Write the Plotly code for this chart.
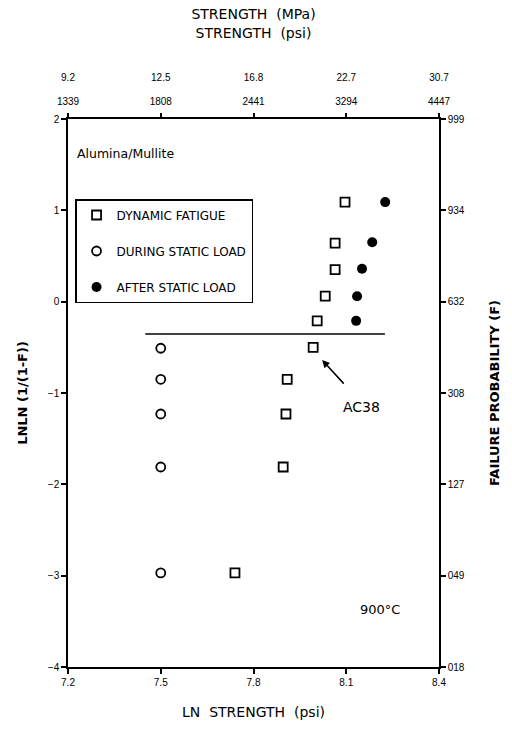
import plotly.graph_objects as go

# ---- data ----
ln_psi_ticks = [7.2, 7.5, 7.8, 8.1, 8.4]
ln_psi_labels = ["7.2", "7.5", "7.8", "8.1", "8.4"]
psi_labels = ["1339", "1808", "2441", "3294", "4447"]
mpa_labels = ["9.2", "12.5", "16.8", "22.7", "30.7"]
lnln_ticks = [-4, -3, -2, -1, 0, 1, 2]
f_labels = ["018", "049", "127", "308", "632", "934", "999"]

dyn_x = [8.096, 8.064, 8.064, 8.032, 8.006, 7.993, 7.909, 7.905, 7.896, 7.740]
dyn_y = [1.09, 0.64, 0.35, 0.06, -0.21, -0.50, -0.85, -1.23, -1.81, -2.97]
during_x = [7.5, 7.5, 7.5, 7.5, 7.5]
during_y = [-0.51, -0.85, -1.23, -1.81, -2.97]
after_x = [8.226, 8.184, 8.151, 8.135, 8.132]
after_y = [1.09, 0.65, 0.36, 0.06, -0.21]
threshold_x = [7.45, 8.225]
threshold_y = [-0.355, -0.355]

TICKFONT = dict(family="Liberation Sans", size=10, color="black")
TITLEFONT = dict(family="DejaVu Sans", size=13, color="black")

fig = go.Figure()
fig.add_trace(go.Scatter(x=threshold_x, y=threshold_y, mode="lines",
                         line=dict(color="black", width=1.5), showlegend=False, hoverinfo="skip"))
fig.add_trace(go.Scatter(x=dyn_x, y=dyn_y, mode="markers", name="DYNAMIC FATIGUE", legendgroup="a",
                         marker=dict(symbol="square-open", size=9, color="black", line=dict(width=1.8))))
fig.add_trace(go.Scatter(x=during_x, y=during_y, mode="markers", name="DURING STATIC LOAD", legendgroup="b",
                         marker=dict(symbol="circle-open", size=9, color="black", line=dict(width=1.8))))
fig.add_trace(go.Scatter(x=after_x, y=after_y, mode="markers", name="AFTER STATIC LOAD", legendgroup="c",
                         marker=dict(symbol="circle", size=10, color="black")))
# helper traces so that secondary axes are drawn
fig.add_trace(go.Scatter(x=[7.2], y=[2], xaxis="x2", yaxis="y", mode="markers",
                         marker=dict(opacity=0), showlegend=False, hoverinfo="skip"))
fig.add_trace(go.Scatter(x=[7.2], y=[2], xaxis="x3", yaxis="y", mode="markers",
                         marker=dict(opacity=0), showlegend=False, hoverinfo="skip"))
fig.add_trace(go.Scatter(x=[7.2], y=[2], xaxis="x", yaxis="y2", mode="markers",
                         marker=dict(opacity=0), showlegend=False, hoverinfo="skip"))

axis_common = dict(showgrid=False, zeroline=False, linecolor="black", linewidth=1.5,
                   tickcolor="black", tickwidth=1.5, tickfont=TICKFONT)

fig.update_layout(
    width=512, height=742,
    margin=dict(l=68, r=73, t=119, b=75),
    paper_bgcolor="white", plot_bgcolor="white",
    xaxis=dict(range=[7.2, 8.4], tickmode="array", tickvals=ln_psi_ticks, ticktext=ln_psi_labels,
               ticks="outside", ticklen=5, showline=True,
               title=dict(text="LN  STRENGTH  (psi)",
                          font=dict(family="DejaVu Sans", size=14, color="black"), standoff=20),
               **axis_common),
    xaxis2=dict(range=[7.2, 8.4], overlaying="x", anchor="y", side="top", tickmode="array",
                tickvals=ln_psi_ticks, ticktext=psi_labels, ticks="outside", ticklen=4, showline=True,
                ticklabelstandoff=4, **axis_common),
    xaxis3=dict(range=[7.2, 8.4], overlaying="x", anchor="y", side="top", tickmode="array",
                tickvals=ln_psi_ticks, ticktext=mpa_labels, ticks="", showline=False,
                ticklabelstandoff=35,
                title=dict(text="STRENGTH  (MPa)<br>STRENGTH  (psi)",
                           font=dict(family="DejaVu Sans", size=14, color="black"), standoff=30),
                **axis_common),
    yaxis=dict(range=[-4, 2], tickmode="array", tickvals=lnln_ticks, ticks="outside", ticklen=5,
               showline=True,
               title=dict(text="<b>LNLN (1/(1-F))</b>", font=TITLEFONT, standoff=17),
               **axis_common),
    yaxis2=dict(range=[-4, 2], overlaying="y", anchor="x", side="right", tickmode="array",
                tickvals=lnln_ticks, ticktext=f_labels, ticks="outside", ticklen=5, showline=True,
                title=dict(text="<b>FAILURE PROBABILITY (F)</b>", font=TITLEFONT, standoff=26),
                **axis_common),
    legend=dict(x=0.019, y=0.854, xanchor="left", yanchor="top", bordercolor="black", borderwidth=1.5,
                font=dict(family="DejaVu Sans", size=12, color="black"), tracegroupgap=17,
                bgcolor="white"),
    showlegend=True,
    annotations=[
        dict(text="Alumina/Mullite", x=7.223, y=1.617, xref="x", yref="y", xanchor="left",
             showarrow=False, font=dict(family="DejaVu Sans", size=12.5, color="black")),
        dict(text="900°C", x=8.21, y=-3.37, xref="x", yref="y", showarrow=False,
             font=dict(family="DejaVu Sans", size=13, color="black")),
        dict(text="AC38", x=8.148, y=-1.155, xref="x", yref="y", showarrow=False,
             font=dict(family="DejaVu Sans", size=14, color="black")),
        dict(text="", x=8.022, y=-0.64, xref="x", yref="y", showarrow=True, ax=23, ay=25,
             arrowhead=2, arrowsize=1, arrowwidth=1.5, arrowcolor="black"),
    ],
)

fig.write_html("out.html")
